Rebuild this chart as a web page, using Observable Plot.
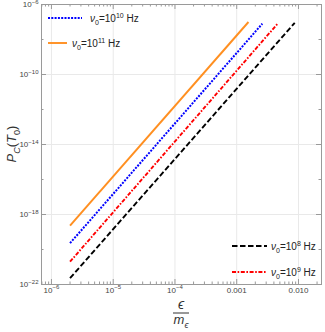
<!DOCTYPE html>
<html><head><meta charset="utf-8">
<script src="https://cdn.jsdelivr.net/npm/d3@7"></script>
<script src="https://cdn.jsdelivr.net/npm/@observablehq/plot@0.6"></script>
<style>
body{margin:0;background:#fff}
svg{font-family:"Liberation Sans",Arial,sans-serif}
</style>
</head><body><div id="chart"></div>
<script>
// ---- data ----
const seriesExp = ["8", "9", "10", "11"];           // ν0 = 10^exp Hz
const seriesColors = ["#000000", "#ff0000", "#0000ff", "#ff8f20"];
const epsStart = [2e-6, 2e-6, 2e-6, 2e-6];
const epsEnd = [0.0087, 0.0046, 0.0026, 0.00155];
const pStart = [2.3e-22, 2.0e-21, 2.3e-20, 2.3e-19];
const pEnd = [9e-8, 8e-8, 8e-8, 1e-7];
const xTicks = [1e-6, 1e-5, 1e-4, 1e-3, 1e-2];
const xTickLabels = ["10^-6", "10^-5", "10^-4", "0.001", "0.010"];
const yTicks = [1e-22, 1e-18, 1e-14, 1e-10, 1e-6];
const yTickLabels = ["10^-22", "10^-18", "10^-14", "10^-10", "10^-6"];
const xDomain = [6.9e-7, 0.0236];
const yDomain = [1e-22, 1e-6];

// ---- build ----
const W = 325, H = 332, mL = 41, mR = 4, mT = 4, mB = 48;
const fh = H - mT - mB;
const fw = W - mL - mR;
const dashes = ["5.5,2.5", "4,1.6,1.6,1.6", "2,1.3", null];
const widths = [1.9, 1.9, 2, 1.9];

const xMinor = d3.scaleLog().domain(xDomain).ticks().filter(v => !xTicks.some(t => Math.abs(t - v) / t < 1e-9));
const yDecades = d3.scaleLog().domain(yDomain).ticks().filter(v => Math.abs(Math.log10(v) - Math.round(Math.log10(v))) < 1e-9);
const yMinor = yDecades.filter(v => !yTicks.some(t => Math.abs(t - v) / t < 1e-9));

const lineMarks = seriesExp.map((e, i) => {
  const rows = [{eps: epsStart[i], p: pStart[i]}, {eps: epsEnd[i], p: pEnd[i]}];
  const o = {x: "eps", y: "p", stroke: seriesColors[i], strokeWidth: widths[i], strokeLinecap: "butt"};
  if (dashes[i]) o.strokeDasharray = dashes[i];
  return Plot.line(rows, o);
});

const tk = "#9a9a9a";
const chart = Plot.plot({
  width: W, height: H,
  marginLeft: mL, marginRight: mR, marginTop: mT, marginBottom: mB,
  x: {type: "log", domain: xDomain, axis: null},
  y: {type: "log", domain: yDomain, axis: null},
  style: {background: "white", fontFamily: "'Liberation Sans',Arial,sans-serif"},
  marks: [
    Plot.ruleX(xTicks, {stroke: "#e9e9e9", strokeWidth: 1}),
    Plot.ruleY(yTicks, {stroke: "#e9e9e9", strokeWidth: 1}),
    Plot.tickX(xTicks, {x: d => d, insetTop: fh - 5, stroke: tk}),
    Plot.tickX(xTicks, {x: d => d, insetBottom: fh - 5, stroke: tk}),
    Plot.tickX(xMinor, {x: d => d, insetTop: fh - 2.5, stroke: tk}),
    Plot.tickX(xMinor, {x: d => d, insetBottom: fh - 2.5, stroke: tk}),
    Plot.tickY(yTicks, {y: d => d, insetRight: fw - 5, stroke: tk}),
    Plot.tickY(yTicks, {y: d => d, insetLeft: fw - 5, stroke: tk}),
    Plot.tickY(yMinor, {y: d => d, insetRight: fw - 2.5, stroke: tk}),
    Plot.tickY(yMinor, {y: d => d, insetLeft: fw - 2.5, stroke: tk}),
    ...lineMarks,
    Plot.frame({stroke: tk}),
    Plot.text(xTicks, {x: d => d, text: (d, i) => xTickLabels[i], frameAnchor: "bottom", dy: 8, fontSize: 8, fill: "#444", className: "tlab"}),
    Plot.text(yTicks, {y: d => d, text: (d, i) => yTickLabels[i], frameAnchor: "left", textAnchor: "end", dx: -3, fontSize: 8, fill: "#444", className: "tlab"})
  ]
});
document.getElementById("chart").append(chart);

const svg = d3.select(chart);
// turn "10^-6" tick labels into base + superscript tspans
svg.selectAll(".tlab text").each(function() {
  const s = this.textContent;
  const m = s.match(/^(\d+)\^(.+)$/);
  if (!m) return;
  const el = d3.select(this);
  el.text(null);
  el.append("tspan").text(m[1]);
  el.append("tspan").attr("dy", -3.2).attr("font-size", 6).text(m[2].replace("-", "−"));
});

function rich(x, y, parts, opts) {
  const size = opts.size;
  const t = svg.append("text").attr("x", x).attr("y", y)
    .attr("font-size", size).attr("fill", opts.fill || "#222")
    .attr("text-anchor", opts.anchor || "start");
  if (opts.rotate) t.attr("transform", `rotate(${opts.rotate},${x},${y})`);
  let cur = 0;
  parts.forEach(p => {
    const shift = p.sub ? size * 0.3 : p.sup ? -size * 0.4 : 0;
    const s = t.append("tspan").text(p.t);
    if (shift - cur !== 0) s.attr("dy", shift - cur);
    cur = shift;
    if (p.italic) s.attr("font-style", "italic");
    if (p.sub || p.sup) s.attr("font-size", size * 0.7);
  });
  return t;
}

// y-axis title
rich(16, mT + fh / 2, [
  {t: "P", italic: true}, {t: "C", italic: true, sub: true}, {t: "("}, {t: "T", italic: true}, {t: "0", sub: true}, {t: ")"}
], {size: 13, anchor: "middle", rotate: -90, fill: "#333"});

// x-axis title (fraction)
const cx = mL + fw / 2;
rich(cx, 309, [{t: "ϵ", italic: true}], {size: 14, anchor: "middle", fill: "#333"});
svg.append("line").attr("x1", cx - 8).attr("x2", cx + 8).attr("y1", 313).attr("y2", 313)
  .attr("stroke", "#333").attr("stroke-width", 1);
rich(cx, 324, [{t: "m", italic: true}, {t: "ϵ", italic: true, sub: true}], {size: 13, anchor: "middle", fill: "#333"});

// legends
const legendPos = [
  {x1: 232, x2: 267, y: 246, tx: 271},
  {x1: 232, x2: 267, y: 272, tx: 271},
  {x1: 48, x2: 82, y: 18, tx: 90},
  {x1: 48, x2: 67, y: 43, tx: 72}
];
seriesExp.forEach((e, i) => {
  const L = legendPos[i];
  const ln = svg.append("line").attr("x1", L.x1).attr("x2", L.x2).attr("y1", L.y).attr("y2", L.y)
    .attr("stroke", seriesColors[i]).attr("stroke-width", widths[i]);
  if (dashes[i]) ln.attr("stroke-dasharray", dashes[i]);
  rich(L.tx, L.y + 3.5, [
    {t: "ν", italic: true}, {t: "0", sub: true}, {t: "=10"}, {t: e, sup: true}, {t: " Hz"}
  ], {size: 10, fill: "#222"});
});
</script>
</body></html>
